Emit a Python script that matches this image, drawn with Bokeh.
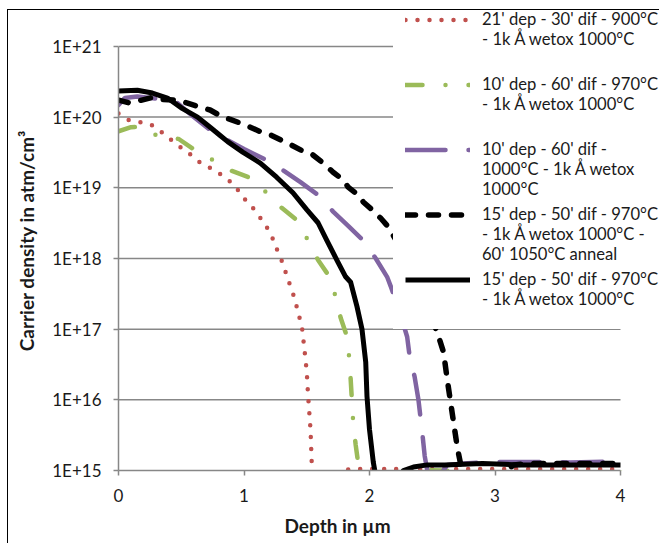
from bokeh.plotting import figure
from bokeh.models import (Legend, LegendItem, FixedTicker, CustomJSTickFormatter, Range1d,
                          Title)
from bokeh.embed import file_html
from bokeh.resources import INLINE

# ---------------- data (depth in um, carrier density in atm/cm^3) ----------------
red_depth = [0, 0.08, 0.17, 0.26, 0.34, 0.41, 0.48, 0.56, 0.63, 0.71, 0.79, 0.87, 0.94, 0.99,
             1.06, 1.11, 1.17, 1.22, 1.25, 1.29, 1.32, 1.35, 1.38, 1.41, 1.43, 1.46, 1.48, 1.50,
             1.51, 1.53, 1.54, 1.56, 1.62, 1.72, 1.80, 1.9, 2.0, 2.5, 3.0, 3.5, 4.0]
red_conc = [1.12e20, 9.1e19, 8.5e19, 7.8e19, 6.2e19, 4.9e19, 3.9e19, 3.1e19, 2.4e19, 2.0e19,
            1.66e19, 1.32e19, 1.0e19, 7.4e18, 5.5e18, 4.2e18, 3.0e18, 2.1e18, 1.5e18, 1.05e18,
            7.4e17, 5.1e17, 3.6e17, 2.5e17, 1.7e17, 1.15e17, 5.5e16, 2.5e16, 1.2e16, 3.8e15,
            1.23e15, 6e14, 3e14, 5e14, 1.03e15, 1.05e15, 1.05e15, 1.05e15, 1.05e15, 1.05e15, 1.05e15]

green_depth = [0, 0.1, 0.2, 0.31, 0.48, 0.59, 0.755, 0.9, 1.05, 1.18, 1.3, 1.42, 1.51, 1.59,
               1.67, 1.73, 1.77, 1.82, 1.84, 1.85, 1.87, 1.89, 1.91, 1.94, 2.0, 2.2, 2.4,
               2.6, 2.8, 3.2, 3.6, 4.0]
green_conc = [6.3e19, 7.2e19, 7.3e19, 5.4e19, 4.9e19, 3.6e19, 2.45e19, 1.74e19, 1.38e19, 8.5e18,
              5.2e18, 3.5e18, 1.8e18, 9.5e17, 5.9e17, 2.9e17, 1.45e17, 7.9e16, 3.7e16, 1.95e16,
              4.8e15, 2.3e15, 1.26e15, 5e14, 6e14, 1.0e15, 1.02e15, 1.0e15, 9.3e14, 9.2e14,
              9.3e14, 9.4e14]

purple_depth = [0, 0.05, 0.15, 0.3, 0.47, 0.6, 0.73, 0.87, 1.0, 1.18, 1.31, 1.45, 1.59, 1.71,
                1.83, 1.95, 2.05, 2.14, 2.17, 2.23, 2.3, 2.32, 2.36, 2.39, 2.42, 2.44, 2.47,
                2.5, 2.55, 2.62, 2.75, 3.0, 3.3, 3.6, 4.0]
purple_conc = [1.48e20, 1.86e20, 1.95e20, 1.82e20, 1.58e20, 1.0e20, 6.6e19, 4.7e19, 3.55e19,
               2.45e19, 1.78e19, 1.2e19, 7.9e18, 4.6e18, 2.9e18, 1.8e18, 1.0e18, 5.5e17, 4.0e17,
               2.0e17, 7.8e16, 4.1e16, 2.1e16, 1.0e16, 3.5e15, 1.6e15, 8e14, 6.3e14, 8e14,
               1.2e15, 1.26e15, 1.32e15, 1.32e15, 1.3e15, 1.35e15]

dash_depth = [0, 0.09, 0.27, 0.35, 0.47, 0.55, 0.65, 0.73, 0.83, 0.89, 0.98, 1.05, 1.15, 1.22,
              1.33, 1.38, 1.47, 1.54, 1.63, 1.71, 1.79, 1.83, 1.91, 1.95, 2.02, 2.09, 2.15, 2.19,
              2.3, 2.4, 2.5, 2.55, 2.59, 2.62, 2.66, 2.7, 2.74, 2.78, 2.95, 3.05, 3.15, 3.3, 4.0]
dash_conc = [1.74e20, 1.58e20, 1.9e20, 1.78e20, 1.74e20, 1.58e20, 1.38e20, 1.26e20, 1.0e20,
             9.3e19, 8.1e19, 7.2e19, 6.0e19, 5.5e19, 4.4e19, 4.0e19, 3.3e19, 3.0e19, 2.24e19,
             1.66e19, 1.29e19, 1.02e19, 7.9e18, 6.3e18, 4.9e18, 3.7e18, 2.8e18, 2.1e18,
             1.0e18, 4.0e17, 1.4e17, 7.9e16, 4.7e16, 1.9e16, 6.3e15, 2.1e15, 9.3e14, 3e14,
             5e14, 9e14, 1.2e15, 1.26e15, 1.26e15]

solid_depth = [0, 0.15, 0.27, 0.39, 0.51, 0.63, 0.73, 0.81, 0.87, 0.99, 1.13, 1.26, 1.39, 1.5,
               1.59, 1.66, 1.74, 1.81, 1.85, 1.9, 1.94, 1.97, 1.98, 2.0, 2.03, 2.05, 2.1, 2.2,
               2.27, 2.35, 2.46, 2.6, 2.9, 3.2, 3.5, 4.0]
solid_conc = [2.34e20, 2.4e20, 2.19e20, 1.86e20, 1.32e20, 1.0e20, 7.2e19, 5.5e19, 4.5e19,
              3.2e19, 2.24e19, 1.41e19, 8.5e18, 4.9e18, 3.2e18, 1.8e18, 9.5e17, 5.5e17, 4.6e17,
              2.1e17, 1.0e17, 3.4e16, 1.12e16, 3.8e15, 1.32e15, 8.3e14, 4e14, 6e14, 1.0e15,
              1.12e15, 1.2e15, 1.2e15, 1.26e15, 1.2e15, 1.2e15, 1.2e15]

series_labels = [
    "21' dep - 30' dif - 900°C\n- 1k Å wetox 1000°C\n ",
    "10' dep - 60' dif - 970°C\n- 1k Å wetox 1000°C\n ",
    "10' dep - 60' dif -\n1000°C - 1k Å wetox\n1000°C",
    "15' dep - 50' dif - 970°C\n- 1k Å wetox 1000°C -\n60' 1050°C anneal",
    "15' dep - 50' dif - 970°C\n- 1k Å wetox 1000°C\n ",
]

x_ticks = [0, 1, 2, 3, 4]
y_ticks = [1e15, 1e16, 1e17, 1e18, 1e19, 1e20, 1e21]
y_tick_labels = ["1E+15", "1E+16", "1E+17", "1E+18", "1E+19", "1E+20", "1E+21"]

FONT = "Lato"
GRID = "#878787"
TXT = "#1a1a1a"

# ---------------- layout (pixels) ----------------
W, H = 652, 534
LEFT, BOTTOM = 110, 73
AXIS_W = 502            # pixel length of the 0..4 axis
AXIS_TOP = 36           # pixel offset of the 1E+21 line below the frame top
frame_w = W - LEFT
frame_h = H - BOTTOM
x_end = x_ticks[-1] * frame_w / AXIS_W
decades = 6 * frame_h / (frame_h - AXIS_TOP)
y_end = y_ticks[0] * 10 ** decades

p = figure(width=W, height=H, output_backend="svg", toolbar_location=None,
           x_range=Range1d(0, x_end), y_range=Range1d(y_ticks[0], y_end), y_axis_type="log",
           min_border_left=LEFT, min_border_right=0, min_border_top=0,
           min_border_bottom=BOTTOM)
p.styles = {"margin-left": "7px", "margin-top": "9px",
            "border-left": "1px solid #000", "border-top": "1px solid #000"}
p.outline_line_color = None
p.background_fill_color = "white"
p.border_fill_color = "white"
p.xgrid.grid_line_color = None
p.ygrid.grid_line_color = None

# horizontal gridlines spanning the axis extent only
p.segment(x0=[x_ticks[0]] * 6, x1=[x_ticks[-1]] * 6, y0=y_ticks[1:], y1=y_ticks[1:],
          line_color=GRID, line_width=1.5)

r_red = p.line(red_depth, red_conc, line_color="#C0504D", line_width=4.5,
               line_dash="0 12", line_cap="round")
r_green = p.line(green_depth, green_conc, line_color="#9BBB59", line_width=4.5,
                 line_dash="17 23 0 23", line_cap="round")
r_purple = p.line(purple_depth, purple_conc, line_color="#8064A2", line_width=4.5,
                  line_dash="40 23", line_cap="round")
r_dash = p.line(dash_depth, dash_conc, line_color="black", line_width=5.5,
                line_dash="10 13", line_cap="round")
r_solid = p.line(solid_depth, solid_conc, line_color="black", line_width=5,
                 line_join="round")
r_blank = p.line(x=[], y=[], line_alpha=0)

# axes
p.xaxis.ticker = FixedTicker(ticks=x_ticks)
p.yaxis.ticker = FixedTicker(ticks=y_ticks)
p.xaxis.bounds = (x_ticks[0], x_ticks[-1])
p.yaxis.bounds = (y_ticks[0], y_ticks[-1])
p.yaxis.formatter = CustomJSTickFormatter(args=dict(labels=y_tick_labels),
                                          code="return labels[Math.round(Math.log10(tick)) - 15];")
for ax in (p.xaxis[0], p.yaxis[0]):
    ax.axis_line_color = GRID
    ax.axis_line_width = 1.5
    ax.major_tick_line_color = GRID
    ax.major_tick_line_width = 1.5
    ax.major_tick_out = 5
    ax.major_tick_in = 0
    ax.minor_tick_line_color = None
    ax.major_label_text_font = FONT
    ax.major_label_text_font_size = "17px"
    ax.major_label_text_color = TXT
    ax.axis_label_text_font = FONT
    ax.axis_label_text_font_size = "19px"
    ax.axis_label_text_font_style = "bold"
    ax.axis_label_text_color = TXT
p.yaxis.axis_label = "Carrier density in atm/cm³"
p.xaxis.major_label_standoff = 13
p.yaxis.major_label_standoff = 12
p.yaxis.axis_label_standoff = 11

x_title = Title(text="Depth in µm", align="left", offset=166, standoff=15,
                text_font=FONT, text_font_size="19px", text_font_style="bold",
                text_color=TXT)
p.add_layout(x_title, "below")

# legend: text block with white background
legend_text = Legend(items=[LegendItem(label=t, renderers=[r_blank]) for t in series_labels],
                     location=(275, 141))
legend_text.label_text_font = FONT
legend_text.label_text_font_size = "16.6px"
legend_text.label_text_color = TXT
legend_text.glyph_width = 77
legend_text.glyph_height = 21
legend_text.label_standoff = 12
legend_text.spacing = 5
legend_text.padding = 0
legend_text.margin = 0
legend_text.border_line_color = None
legend_text.background_fill_color = "white"
legend_text.background_fill_alpha = 1.0
p.add_layout(legend_text, "center")

# legend: line samples aligned with the first text line of each entry
legend_glyphs = Legend(items=[
    LegendItem(label=" ", renderers=[r_red]),
    LegendItem(label=" ", renderers=[r_green]),
    LegendItem(label=" ", renderers=[r_purple]),
    LegendItem(label=" ", renderers=[r_dash]),
    LegendItem(label=" ", renderers=[r_solid]),
], location=(287, 180))
legend_glyphs.label_text_font_size = "1px"
legend_glyphs.label_height = 21
legend_glyphs.glyph_width = 65
legend_glyphs.glyph_height = 21
legend_glyphs.label_standoff = 0
legend_glyphs.spacing = 44
legend_glyphs.padding = 0
legend_glyphs.margin = 0
legend_glyphs.border_line_color = None
legend_glyphs.background_fill_alpha = 0
p.add_layout(legend_glyphs, "center")

open("out.html", "w").write(file_html(p, INLINE))
